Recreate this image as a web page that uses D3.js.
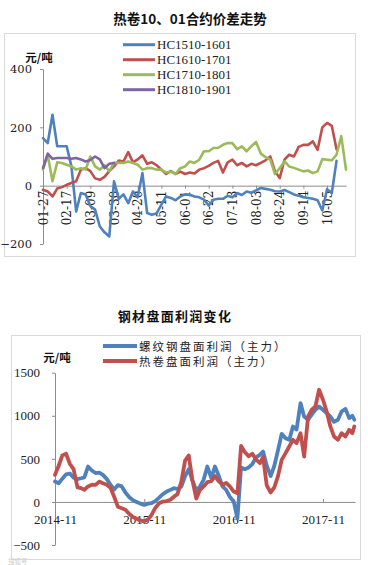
<!DOCTYPE html>
<html><head><meta charset="utf-8">
<script src="https://cdn.jsdelivr.net/npm/d3@7"></script>
<style>html,body{margin:0;padding:0;background:#fff;} svg{display:block;}</style>
</head><body>
<svg id="c" width="368" height="565"></svg>
<script>
// ---------- Chart 1: 热卷10、01合约价差走势 ----------
const spreadTitle = "热卷10、01合约价差走势";
const spreadNames = ["HC1510-1601", "HC1610-1701", "HC1710-1801", "HC1810-1901"];
const spreadColors = ["#4f81bd", "#c0504d", "#9bbb59", "#8064a2"];
const spreadTickLabels = ["01-27","02-17","03-09","03-30","04-20","05-11","06-01","06-22","07-13","08-03","08-24","09-14","10-05"];
const spreadTickDays = [0,15,30,45,60,75,90,105,120,135,150,165,180];
const spreadYTicks = [-200, 0, 200, 400];
// trading-day index of each sample
const spreadDays = [0,3,6,9,12,15,18,21,24,27,30,33,36,39,42,45,48,51,54,57,60,63,66,69,72,75,78,81,84,87,90,93,96,99,102,105,108,111,114,117,120,123,126,129,132,135,138,141,144,147,150,153,156,159,162,165,168,171,174,177,180,183,186,189,192];
const hc1510 = [163,146,243,135,135,135,66,-88,-25,-30,-70,-82,-140,-160,-174,15,-45,-30,-60,-20,-40,43,-94,-100,-95,-65,-37,-42,-50,-37,-30,-31,-37,-40,-48,-68,-48,-45,-45,-35,-40,-25,-32,-20,-24,-16,-8,-11,-14,-19,-20,-15,-22,-30,-35,-40,-42,-45,-50,-85,-12,-25,85];
const hc1610 = [-14,-20,-37,-10,-5,3,9,15,55,60,50,25,20,30,50,66,86,83,115,80,90,104,75,80,70,55,40,50,40,48,40,45,42,55,60,68,78,85,45,80,89,70,78,66,75,70,78,87,100,49,26,89,106,100,133,140,140,152,123,200,215,205,125];
const hc1710 = [55,105,15,80,78,72,66,55,60,55,100,66,55,70,50,78,78,78,83,78,72,55,60,60,55,55,45,48,40,60,66,83,78,89,118,118,129,130,140,146,146,125,135,118,135,150,110,98,89,40,60,83,66,61,55,49,52,43,49,91,89,87,106,170,55];
const hc1810 = [61,110,92,95,95,95,92,95,90,83,88,100,90,60,75,78];

// ---------- Chart 2: 钢材盘面利润变化 ----------
const profitTitle = "钢材盘面利润变化";
const profitNames = ["螺纹钢盘面利润（主力）", "热卷盘面利润（主力）"];
const profitColors = ["#4f81bd", "#c0504d"];
const profitXTicks = ["2014-11-01","2015-11-01","2016-11-01","2017-11-01"];
const profitXTickLabels = ["2014-11","2015-11","2016-11","2017-11"];
const profitYTicks = [-500, 0, 500, 1000, 1500];
const profitDates = ["2014-11-01","2014-11-16","2014-12-01","2014-12-16","2015-01-01","2015-01-16","2015-02-01","2015-02-16","2015-03-01","2015-03-16",
"2015-04-01","2015-04-16","2015-05-01","2015-05-16","2015-06-01","2015-06-16","2015-07-01","2015-07-16","2015-08-01","2015-08-16",
"2015-09-01","2015-09-16","2015-10-01","2015-10-16","2015-11-01","2015-11-16","2015-12-01","2015-12-16","2016-01-01","2016-01-16",
"2016-02-01","2016-02-16","2016-03-01","2016-03-16","2016-04-01","2016-04-16","2016-05-01","2016-05-16","2016-06-01","2016-06-16",
"2016-07-01","2016-07-16","2016-08-01","2016-08-16","2016-09-01","2016-09-16","2016-10-01","2016-10-16","2016-11-01","2016-11-16",
"2016-12-01","2016-12-16","2017-01-01","2017-01-16","2017-02-01","2017-02-16","2017-03-01","2017-03-16","2017-04-01","2017-04-16",
"2017-05-01","2017-05-16","2017-06-01","2017-06-16","2017-07-01","2017-07-16","2017-08-01","2017-08-16","2017-09-01","2017-09-16",
"2017-10-01","2017-10-16","2017-11-01","2017-11-16","2017-12-01","2017-12-16","2018-01-01","2018-01-16","2018-02-01","2018-02-16",
"2018-03-01","2018-03-09"];
const rebarProfit = [236,217,270,320,330,280,265,275,285,411,
365,335,340,314,265,200,145,195,180,110,
55,20,0,-20,-35,-20,-15,10,50,90,
120,140,159,150,180,300,380,250,130,180,
260,411,280,411,300,180,140,60,4,-190,
400,380,400,440,520,546,585,420,300,420,
600,790,740,720,876,840,1147,990,954,1012,
1070,1108,1070,1031,992,930,954,1050,1080,973,
1000,954];
const hrcProfit = [314,420,540,560,440,380,170,160,140,180,
200,198,236,217,200,165,60,-55,-74,-90,
-140,-175,-195,-215,-225,-205,-150,-70,-15,4,
10,25,60,90,240,480,540,250,40,140,
180,230,240,300,240,200,220,180,120,100,
650,580,530,560,490,450,520,190,110,170,
300,488,566,643,721,682,798,527,992,1070,
1108,1302,1186,1050,876,760,721,798,760,837,
798,876];

const svg = d3.select("#c");
const axisColor = "#8c8c8c";
const cjk = "'Noto Sans CJK SC', sans-serif";
const serif = "'Liberation Serif', 'Times New Roman', serif";

// ======== Chart 1 ========
svg.append("text").attr("x", 190).attr("y", 18).attr("text-anchor", "middle")
  .attr("dominant-baseline", "central").attr("font-family", cjk).attr("font-weight", "bold")
  .attr("font-size", 13.5).attr("fill", "#111").text(spreadTitle);

svg.append("rect").attr("x", 4.5).attr("y", 33.5).attr("width", 351).attr("height", 223)
  .attr("fill", "none").attr("stroke", "#d9d9d9");

const xT = d3.scaleLinear().domain([0, 192]).range([43, 346]);
const yT = d3.scaleLinear().domain([-200, 400]).range([244, 69]);

const gyT = svg.append("g").attr("transform", `translate(${xT(0)},0)`)
  .call(d3.axisLeft(yT).tickValues(spreadYTicks).tickFormat(d3.format("d")).tickSizeInner(3).tickSizeOuter(0).tickPadding(8));
gyT.select(".domain").attr("stroke", axisColor);
gyT.selectAll(".tick line").attr("stroke", axisColor);
gyT.selectAll(".tick text").attr("font-family", "'DejaVu Serif', serif").attr("font-size", 11.5).attr("fill", "#222");

const gxT = svg.append("g").attr("transform", `translate(0,${yT(0)})`)
  .call(d3.axisBottom(xT).tickValues(spreadTickDays).tickFormat((d, i) => spreadTickLabels[i]).tickSizeInner(3).tickSizeOuter(0));
gxT.select(".domain").attr("stroke", axisColor);
gxT.selectAll(".tick line").attr("stroke", axisColor);
gxT.selectAll(".tick text").attr("font-family", "'DejaVu Serif', serif").attr("font-size", 12).attr("fill", "#222")
  .attr("transform", "rotate(-90)").attr("text-anchor", "end").attr("x", -5).attr("y", 0).attr("dy", "0.35em");

svg.append("text").attr("x", 39).attr("y", 57).attr("text-anchor", "middle").attr("dominant-baseline", "central")
  .attr("font-family", cjk).attr("font-weight", "bold").attr("font-size", 11.5).attr("fill", "#111").text("元/吨");

const spreadSeries = [hc1510, hc1610, hc1710, hc1810];
const lineT = d3.line().x((d, i) => xT(spreadDays[i])).y(d => yT(d));
spreadSeries.forEach((s, j) => {
  svg.append("path").datum(s).attr("d", lineT).attr("fill", "none")
    .attr("stroke", spreadColors[j]).attr("stroke-width", 2.6)
    .attr("stroke-linejoin", "round").attr("stroke-linecap", "round");
});

const legT = svg.append("g");
spreadNames.forEach((n, j) => {
  const y = 44.7 + j * 15;
  legT.append("line").attr("x1", 123).attr("x2", 155).attr("y1", y).attr("y2", y)
    .attr("stroke", spreadColors[j]).attr("stroke-width", 3);
  legT.append("text").attr("x", 157).attr("y", y).attr("dominant-baseline", "central")
    .attr("font-family", serif).attr("font-size", 13).attr("fill", "#222").text(n);
});

// ======== Chart 2 ========
svg.append("text").attr("x", 175).attr("y", 315).attr("text-anchor", "middle")
  .attr("dominant-baseline", "central").attr("font-family", cjk).attr("font-weight", "bold")
  .attr("font-size", 13).attr("letter-spacing", 1.3).attr("fill", "#111").text(profitTitle);

svg.append("rect").attr("x", 11.5).attr("y", 335.5).attr("width", 349).attr("height", 224)
  .attr("fill", "none").attr("stroke", "#d9d9d9");

const parse = d3.timeParse("%Y-%m-%d");
const xB = d3.scaleTime().domain([parse("2014-11-01"), parse("2017-11-01")]).range([55, 323]);
const xEnd = parse("2018-03-12");
const yB = d3.scaleLinear().domain([-500, 1500]).range([545, 372.7]);

const gyB = svg.append("g").attr("transform", `translate(55,0)`)
  .call(d3.axisLeft(yB).tickValues(profitYTicks).tickFormat(d3.format("d")).tickSizeInner(3).tickSizeOuter(0).tickPadding(12));
gyB.select(".domain").attr("stroke", axisColor);
gyB.selectAll(".tick line").attr("stroke", axisColor);
gyB.selectAll(".tick text").attr("font-family", serif).attr("font-size", 13).attr("fill", "#222");

const xBfull = d3.scaleTime().domain([parse("2014-11-01"), xEnd]).range([55, xB(xEnd)]);
const gxB = svg.append("g").attr("transform", `translate(0,${yB(0)})`)
  .call(d3.axisBottom(xBfull).tickValues(profitXTicks.map(parse)).tickFormat((d, i) => profitXTickLabels[i])
    .tickSizeInner(-3).tickSizeOuter(0));
gxB.select(".domain").attr("stroke", axisColor);
gxB.selectAll(".tick line").attr("stroke", axisColor);
gxB.selectAll(".tick text").attr("font-family", serif).attr("font-size", 13).attr("fill", "#222")
  .attr("y", 13).attr("dy", "0.71em");

svg.append("text").attr("x", 57).attr("y", 357).attr("text-anchor", "middle").attr("dominant-baseline", "central")
  .attr("font-family", cjk).attr("font-weight", "bold").attr("font-size", 11.5).attr("fill", "#111").text("元/吨");

const profitSeries = [rebarProfit, hrcProfit];
const lineB = d3.line().x((d, i) => xB(parse(profitDates[i]))).y(d => yB(d));
profitSeries.forEach((s, j) => {
  svg.append("path").datum(s).attr("d", lineB).attr("fill", "none")
    .attr("stroke", profitColors[j]).attr("stroke-width", 3.8)
    .attr("stroke-linejoin", "round").attr("stroke-linecap", "round");
});

const legB = svg.append("g");
profitNames.forEach((n, j) => {
  const y = 346 + j * 15;
  legB.append("line").attr("x1", 103).attr("x2", 137).attr("y1", y).attr("y2", y)
    .attr("stroke", profitColors[j]).attr("stroke-width", 4);
  legB.append("text").attr("x", 139).attr("y", y).attr("dominant-baseline", "central")
    .attr("font-family", cjk).attr("font-size", 11.5).attr("letter-spacing", 2).attr("fill", "#222").text(n);
});

svg.append("text").attr("x", 8).attr("y", 563.5).attr("font-family", cjk).attr("font-size", 6.5)
  .attr("fill", "#cfcfcf").text("搜狐号");
</script>
</body></html>
